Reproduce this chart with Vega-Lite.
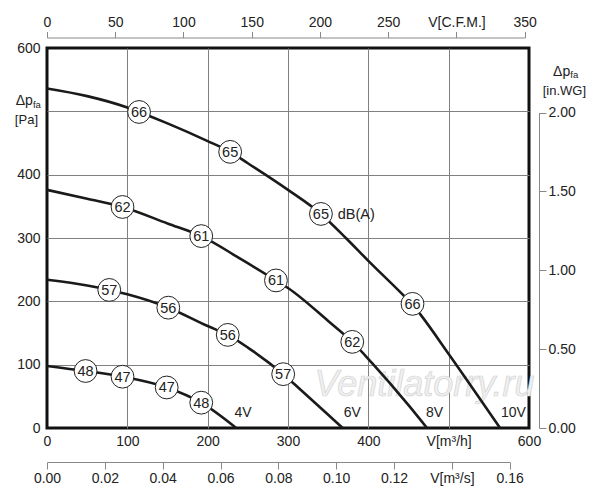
{
  "$schema": "https://vega.github.io/schema/vega-lite/v6.json",
  "width": 482,
  "height": 380,
  "autosize": "none",
  "padding": {"left": 47, "top": 48, "right": 71, "bottom": 72},
  "background": "white",
  "config": {
    "font": "Liberation Sans",
    "view": {"stroke": "#111111", "strokeWidth": 3},
    "axis": {"labelFont": "Liberation Sans", "labelFontSize": 14, "labelColor": "#222222", "title": null, "labelFlush": false, "labelOverlap": false}
  },
  "datasets": {
    "curves": [
      {"s": "10V", "x": 0, "y": 536}, {"s": "10V", "x": 50, "y": 524}, {"s": "10V", "x": 100, "y": 506},
      {"s": "10V", "x": 114.6, "y": 499}, {"s": "10V", "x": 150, "y": 481}, {"s": "10V", "x": 200, "y": 453},
      {"s": "10V", "x": 228, "y": 436}, {"s": "10V", "x": 250, "y": 418}, {"s": "10V", "x": 300, "y": 376},
      {"s": "10V", "x": 341, "y": 338}, {"s": "10V", "x": 372, "y": 300}, {"s": "10V", "x": 400, "y": 264},
      {"s": "10V", "x": 441, "y": 213}, {"s": "10V", "x": 455, "y": 195}, {"s": "10V", "x": 465, "y": 179},
      {"s": "10V", "x": 500, "y": 117}, {"s": "10V", "x": 564, "y": 0},
      {"s": "8V", "x": 0, "y": 376}, {"s": "8V", "x": 50, "y": 362}, {"s": "8V", "x": 94, "y": 349},
      {"s": "8V", "x": 150, "y": 323}, {"s": "8V", "x": 192, "y": 303}, {"s": "8V", "x": 241, "y": 267},
      {"s": "8V", "x": 285, "y": 233}, {"s": "8V", "x": 300, "y": 221}, {"s": "8V", "x": 350, "y": 169},
      {"s": "8V", "x": 380, "y": 136}, {"s": "8V", "x": 405, "y": 102}, {"s": "8V", "x": 450, "y": 36},
      {"s": "8V", "x": 473, "y": 0},
      {"s": "6V", "x": 0, "y": 234}, {"s": "6V", "x": 50, "y": 225}, {"s": "6V", "x": 77.5, "y": 218},
      {"s": "6V", "x": 100, "y": 211}, {"s": "6V", "x": 151, "y": 190}, {"s": "6V", "x": 200, "y": 161},
      {"s": "6V", "x": 225, "y": 147}, {"s": "6V", "x": 250, "y": 127}, {"s": "6V", "x": 294, "y": 85},
      {"s": "6V", "x": 316, "y": 60}, {"s": "6V", "x": 350, "y": 21}, {"s": "6V", "x": 368, "y": 0},
      {"s": "4V", "x": 0, "y": 98}, {"s": "4V", "x": 48, "y": 90}, {"s": "4V", "x": 94, "y": 81},
      {"s": "4V", "x": 149, "y": 64}, {"s": "4V", "x": 192, "y": 40}, {"s": "4V", "x": 235.5, "y": 0}
    ],
    "dots": [
      {"db": "66", "x": 114.6, "y": 499}, {"db": "65", "x": 228, "y": 436}, {"db": "65", "x": 341, "y": 338}, {"db": "66", "x": 455, "y": 196},
      {"db": "62", "x": 94, "y": 349}, {"db": "61", "x": 192, "y": 303}, {"db": "61", "x": 285, "y": 233}, {"db": "62", "x": 380, "y": 136},
      {"db": "57", "x": 77.5, "y": 218}, {"db": "56", "x": 151, "y": 190}, {"db": "56", "x": 225, "y": 147}, {"db": "57", "x": 294, "y": 85},
      {"db": "48", "x": 48, "y": 90}, {"db": "47", "x": 94, "y": 81}, {"db": "47", "x": 149, "y": 64}, {"db": "48", "x": 192, "y": 40}
    ],
    "volts": [
      {"t": "4V", "x": 244, "y": 24}, {"t": "6V", "x": 380, "y": 24},
      {"t": "8V", "x": 482.5, "y": 23}, {"t": "10V", "x": 580.5, "y": 23}
    ],
    "dba": [{"t": "dB(A)", "x": 362, "y": 337}],
    "dp": [{"t": "Δp", "x": -39, "y": 510.5}, {"t": "Δp", "x": 630, "y": 556}],
    "fa": [{"t": "fa", "x": -17.5, "y": 506}, {"t": "fa", "x": 651.4, "y": 552}],
    "units": [{"t": "[Pa]", "x": -40, "y": 480.5}, {"t": "[in.WG]", "x": 617, "y": 526.5}],
    "wm": [{"t": "Ventilatorry.ru", "x": 470, "y": 68}]
  },
  "layer": [
    {
      "encoding": {
        "x": {
          "field": "x", "type": "quantitative",
          "scale": {"domain": [0, 600], "nice": false},
          "axis": {
            "orient": "bottom", "values": [0, 100, 200, 300, 400, 500, 600],
            "domain": false, "ticks": false, "tickSize": 0, "labelPadding": 6,
            "grid": true, "gridColor": "#808080",
            "gridOpacity": {"condition": {"test": "datum.value == 0 || datum.value == 600", "value": 0}, "value": 1},
            "labelExpr": "datum.value == 500 ? 'V[m³/h]' : datum.label"
          }
        },
        "y": {
          "field": "y", "type": "quantitative",
          "scale": {"domain": [0, 600], "nice": false},
          "axis": {
            "orient": "left", "values": [0, 100, 200, 300, 400, 500, 600],
            "domain": false, "ticks": false, "tickSize": 0, "labelPadding": 7,
            "grid": true, "gridColor": "#808080",
            "gridOpacity": {"condition": {"test": "datum.value == 0 || datum.value == 600", "value": 0}, "value": 1},
            "labelExpr": "datum.value == 500 ? '' : datum.label"
          }
        }
      },
      "layer": [
        {
          "data": {"name": "wm"},
          "mark": {"type": "text", "fontStyle": "italic", "fontSize": 36, "fill": "#f0f0f0", "stroke": "#d4d4d4", "strokeWidth": 0.7, "baseline": "middle"},
          "encoding": {"text": {"field": "t"}}
        },
        {
          "data": {"name": "curves"},
          "mark": {"type": "line", "color": "#1a1a1a", "strokeWidth": 2.6, "interpolate": "monotone"},
          "encoding": {"detail": {"field": "s"}}
        },
        {
          "data": {"name": "dots"},
          "mark": {"type": "point", "shape": "circle", "filled": true, "fill": "white", "stroke": "#222222", "strokeWidth": 1, "size": 520, "opacity": 1}
        },
        {
          "data": {"name": "dots"},
          "mark": {"type": "text", "fontSize": 14.5, "color": "#222222", "baseline": "middle", "dy": 1},
          "encoding": {"text": {"field": "db"}}
        },
        {
          "data": {"name": "volts"},
          "mark": {"type": "text", "fontSize": 14, "color": "#222222", "baseline": "middle"},
          "encoding": {"text": {"field": "t"}}
        },
        {
          "data": {"name": "dba"},
          "mark": {"type": "text", "fontSize": 14.5, "color": "#222222", "baseline": "middle", "align": "left"},
          "encoding": {"text": {"field": "t"}}
        },
        {
          "data": {"name": "dp"},
          "mark": {"type": "text", "fontSize": 14, "color": "#222222", "baseline": "alphabetic", "align": "left"},
          "encoding": {"text": {"field": "t"}}
        },
        {
          "data": {"name": "fa"},
          "mark": {"type": "text", "fontSize": 9.5, "color": "#222222", "baseline": "alphabetic", "align": "left"},
          "encoding": {"text": {"field": "t"}}
        },
        {
          "data": {"name": "units"},
          "mark": {"type": "text", "fontSize": 13, "color": "#222222", "baseline": "alphabetic", "align": "left"},
          "encoding": {"text": {"field": "t"}}
        }
      ]
    },
    {
      "data": {"values": [{"c": 0}, {"c": 350}]},
      "mark": {"type": "point", "opacity": 0},
      "encoding": {
        "x": {
          "field": "c", "type": "quantitative",
          "scale": {"domain": [0, 350], "range": [0, 477.7], "nice": false},
          "axis": {
            "orient": "top", "offset": 10.5, "values": [0, 50, 100, 150, 200, 250, 300, 350],
            "grid": false, "tickSize": 6, "labelPadding": 2,
            "domainColor": "#888888", "tickColor": "#888888",
            "labelExpr": "datum.value == 300 ? 'V[C.F.M.]' : datum.label"
          }
        }
      }
    },
    {
      "data": {"values": [{"q": 0}, {"q": 0.16}]},
      "mark": {"type": "point", "opacity": 0},
      "encoding": {
        "x": {
          "field": "q", "type": "quantitative",
          "scale": {"domain": [0, 0.16], "range": [0, 462.7], "nice": false},
          "axis": {
            "orient": "bottom", "offset": 34, "values": [0, 0.02, 0.04, 0.06, 0.08, 0.1, 0.12, 0.14, 0.16],
            "grid": false, "tickSize": 7, "labelPadding": 2,
            "domainColor": "#888888", "tickColor": "#888888",
            "labelExpr": "abs(datum.value - 0.14) < 0.001 ? 'V[m³/s]' : format(datum.value, '.2f')"
          }
        }
      }
    },
    {
      "data": {"values": [{"w": 0}, {"w": 2}]},
      "mark": {"type": "point", "opacity": 0},
      "encoding": {
        "y": {
          "field": "w", "type": "quantitative",
          "scale": {"domain": [0, 2], "range": [380, 64.5], "nice": false},
          "axis": {
            "orient": "right", "offset": 10, "values": [0, 0.5, 1, 1.5, 2],
            "grid": false, "tickSize": 7, "labelPadding": 2, "format": ".2f",
            "domainColor": "#888888", "tickColor": "#888888"
          }
        }
      }
    }
  ],
  "resolve": {"scale": {"x": "independent", "y": "independent"}}
}
